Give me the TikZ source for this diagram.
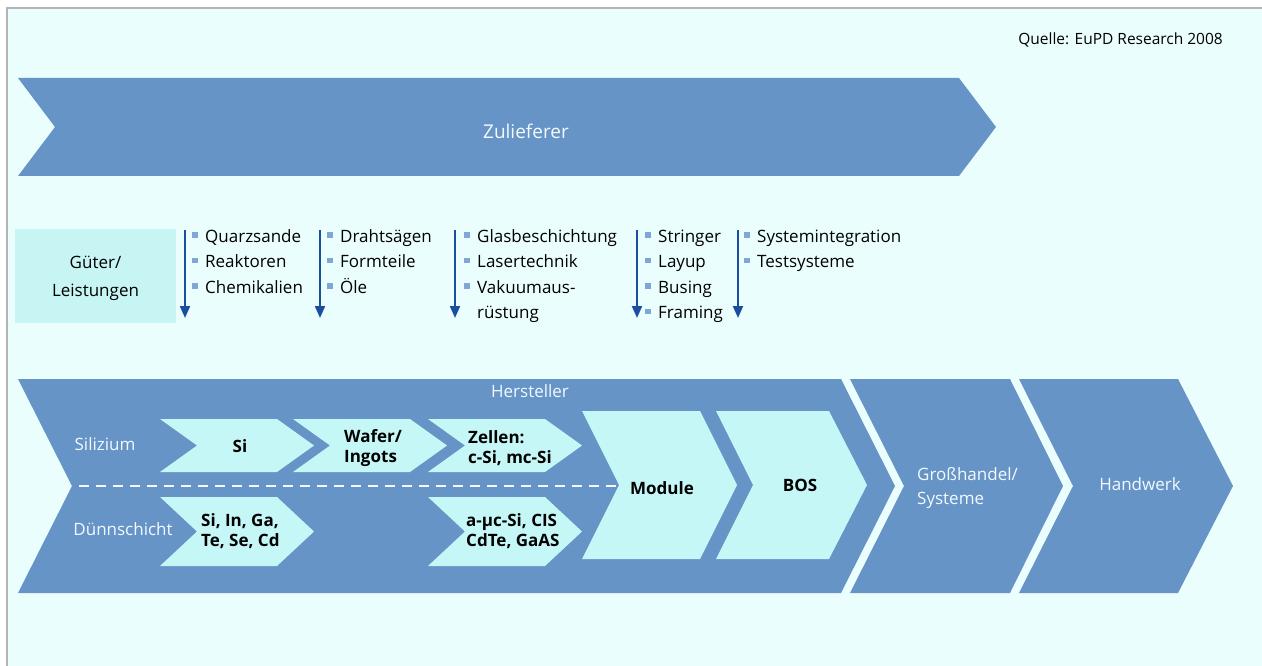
\documentclass[tikz,border=0pt]{standalone}
\usepackage{fontspec}
\setmainfont{Open Sans}
\usetikzlibrary{arrows.meta}
\definecolor{bgc}{HTML}{EBFEFE}
\definecolor{mainblue}{HTML}{6694C6}
\definecolor{lightc}{HTML}{C6F7F7}
\definecolor{gbox}{HTML}{C6F5F4}
\definecolor{arrblue}{HTML}{1A4E9E}
\definecolor{bulc}{HTML}{7FA6D6}
\definecolor{wtext}{HTML}{F2FAFF}
\definecolor{framec}{HTML}{B4B4B4}
\tikzset{
  txt/.style={inner sep=0pt, font=\fontsize{17}{21}\selectfont},
  item/.style={txt, anchor=base west, text=black},
  wlabel/.style={txt, text=wtext},
  blabel/.style={txt, font=\fontsize{17}{20.5}\selectfont\bfseries, align=left, text=black},
  downarrow/.style={draw=arrblue, line width=2pt, -{Triangle[width=10pt,length=12pt]}},
  blt/.style={fill=bulc},
}
\begin{document}
\begin{tikzpicture}[x=1pt,y=-1pt]
\useasboundingbox (0,0) rectangle (1262,666);
\fill[white] (0,0) rectangle (1262,666);
\fill[bgc] (7,8) rectangle (1262,666);
\draw[framec, line width=1.6pt] (7,666) -- (7,8) -- (1262,8);

% Zulieferer
\fill[mainblue] (18,78) -- (959,78) -- (996,127) -- (959,176) -- (18,176) -- (55,127) -- cycle;
\node[wlabel, font=\fontsize{19}{22}\selectfont] (zul) at (526,131) {Zulieferer};
\node[txt, anchor=east, font=\fontsize{15.5}{18}\selectfont] (quelle) at (1223,40) {Quelle: EuPD Research 2008};

% Gueter box
\node[fill=gbox, minimum width=161pt, minimum height=94pt, inner sep=0pt] (gl) at (95.5,276) {};
\node[txt, align=center, font=\fontsize{17}{28}\selectfont] (gltext) at (95.5,278) {Güter/\\Leistungen};

% arrows
\foreach \ax [count=\k] in {185,320,455,637,738} {
  \coordinate (as\k) at (\ax,230);
  \coordinate (ae\k) at (\ax,318);
  \draw[downarrow] (as\k) -- (ae\k);
}

% bullet columns
\newcommand\bulletcol[3]{% #1 text x, #2 list, #3 name prefix
  \foreach \t [count=\i] in {#2} {
    \pgfmathsetmacro\by{216.5+25.5*\i}
    \node[item] (#3\i) at (#1,\by) {\t};
    \fill[blt] (#1-13,\by-10) rectangle (#1-7,\by-4.5);
  }
}
\bulletcol{205}{Quarzsande,Reaktoren,Chemikalien}{qa}
\bulletcol{340}{Drahtsägen,Formteile,Öle}{dr}
\bulletcol{477}{Glasbeschichtung,Lasertechnik,Vakuumaus-}{gs}
\node[item] (gs4) at (477,318.5) {rüstung};
\bulletcol{658}{Stringer,Layup,Busing,Framing}{st}
\bulletcol{757}{Systemintegration,Testsysteme}{sy}

% Hersteller and following
\fill[mainblue] (18,379) -- (841,379) -- (895,486) -- (841,593) -- (18,593) -- (72,486) -- cycle;
\fill[mainblue] (850,379) -- (1010,379) -- (1063,486) -- (1010,593) -- (850,593) -- (904,486) -- cycle;
\fill[mainblue] (1019,379) -- (1178,379) -- (1233,486) -- (1178,593) -- (1019,593) -- (1073,486) -- cycle;
\node[wlabel] (hers) at (530,391) {Hersteller};
\node[wlabel, align=left, anchor=west, font=\fontsize{17}{24}\selectfont] (gross) at (917,488) {Großhandel/\\Systeme};
\node[wlabel] (hand) at (1140,484) {Handwerk};
\node[wlabel] (sil) at (105,444) {Silizium};
\node[wlabel] (duenn) at (123,529) {Dünnschicht};

% dashed separator
\coordinate (dl) at (79,486);
\coordinate (dr) at (618,486);
\draw[wtext, line width=2pt, dash pattern=on 10pt off 7pt] (dl) -- (dr);

% inner chevrons, row Silizium
\foreach \x in {160,293,428} {
  \fill[lightc] (\x,419) -- (\x+117,419) -- (\x+154,445.5) -- (\x+117,472) -- (\x,472) -- (\x+37,445.5) -- cycle;
}
% row Duennschicht
\foreach \x in {160,428} {
  \fill[lightc] (\x,497) -- (\x+117,497) -- (\x+154,531.5) -- (\x+117,566) -- (\x,566) -- (\x+37,531.5) -- cycle;
}
% Module, BOS
\fill[lightc] (582,411) -- (700,411) -- (737,485) -- (700,559) -- (582,559) -- (619,485) -- cycle;
\fill[lightc] (716,411) -- (829,411) -- (867,485) -- (829,559) -- (716,559) -- (753,485) -- cycle;

\node[blabel] (si) at (240,446) {Si};
\node[blabel, anchor=west] (wafer) at (344,448) {Wafer/\\Ingots};
\node[blabel, anchor=west] (zellen) at (468,448) {Zellen:\\c-Si, mc-Si};
\node[blabel, anchor=west] (siin) at (201,531) {Si, In, Ga,\\Te, Se, Cd};
\node[blabel, anchor=west] (amc) at (466,531) {a-µc-Si, CIS\\CdTe, GaAS};
\node[blabel] (module) at (662,488) {Module};
\node[blabel] (bos) at (800,485) {BOS};
\end{tikzpicture}
\end{document}
